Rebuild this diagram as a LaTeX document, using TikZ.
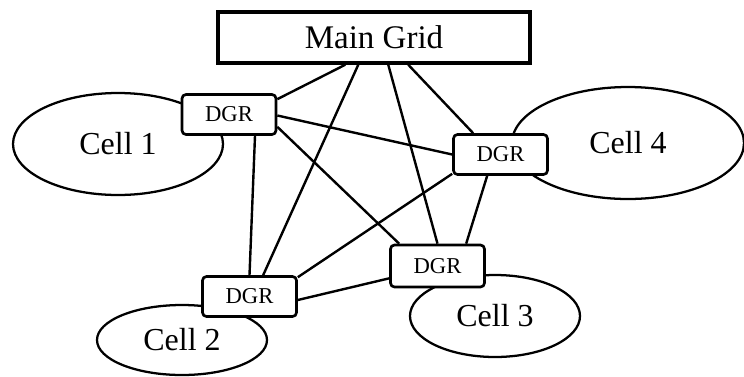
\documentclass[tikz,border=0pt]{standalone}
\usepackage{fontspec}
\setmainfont{Liberation Serif}
\usetikzlibrary{shapes.geometric,calc}
\tikzset{
  cell/.style={draw, ellipse, line width=1.7pt, inner sep=0pt, font=\fontsize{24pt}{28pt}\selectfont},
  dgr/.style={draw, fill=white, rounded corners=3pt, line width=2pt, minimum width=70.5pt, minimum height=30pt, inner sep=0pt, font=\fontsize{17pt}{20pt}\selectfont},
  gridbox/.style={draw, line width=2.6pt, minimum width=234pt, minimum height=38.25pt, inner sep=0pt, font=\fontsize{24.75pt}{30pt}\selectfont},
  link/.style={line width=1.8pt}
}
\begin{document}
\begin{tikzpicture}[x=0.75pt, y=-0.75pt]
\useasboundingbox (0,0) rectangle (744,376);
% cells
\node[cell, minimum width=157.5pt, minimum height=76.5pt] (c1) at (118,144) {Cell 1};
\node[cell, minimum width=174pt, minimum height=84pt] (c4) at (628,143) {Cell 4};
\node[cell, minimum width=127.5pt, minimum height=52.5pt] (c2) at (182,340) {Cell 2};
\node[cell, minimum width=127.5pt, minimum height=61.5pt] (c3) at (495,316) {Cell 3};
% main grid
\node[gridbox] (grid) at (374,37.5) {Main Grid};
% DGR boxes
\node[dgr] (d1) at (229,114.5) {DGR};
\node[dgr] (d4) at (500.5,154.5) {DGR};
\node[dgr] (d2) at (249.5,296.5) {DGR};
\node[dgr, minimum height=31.5pt] (d3) at (437.5,266) {DGR};
% connectors
\draw[link] ($(grid.south west)+(129,0)$) -- ($(d1.north east)+(0,6)$);
\draw[link] ($(grid.south west)+(142,0)$) -- ($(d2.north west)+(62,0)$);
\draw[link] ($(grid.south west)+(172,0)$) -- (d3.north);
\draw[link] ($(grid.south west)+(192,0)$) -- ($(d4.north west)+(21,0)$);
\draw[link] ($(d1.east)+(0,1)$) -- (d4.west);
\draw[link] ($(d1.south east)+(0,-9)$) -- ($(d3.north west)+(10,0)$);
\draw[link] ($(d1.south)+(26,0)$) -- (d2.north);
\draw[link] ($(d4.south west)+(0,-2)$) -- ($(d2.north east)+(0,2)$);
\draw[link] ($(d4.south west)+(35,0)$) -- ($(d3.north west)+(77,0)$);
\draw[link] ($(d2.east)+(0,3.5)$) -- ($(d3.south west)+(0,-10)$);
\end{tikzpicture}
\end{document}
